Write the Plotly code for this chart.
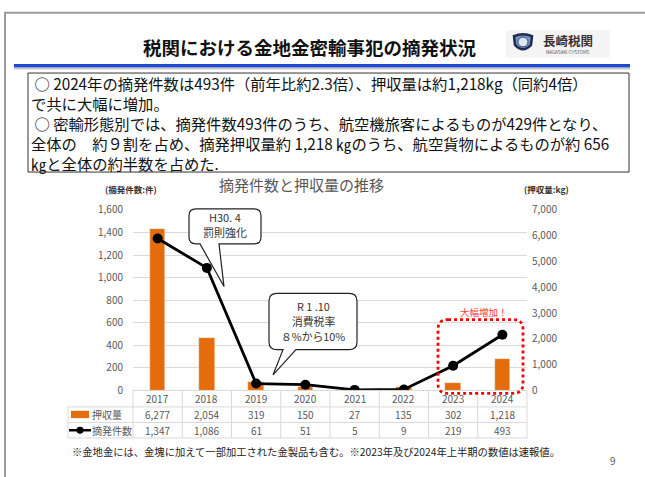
import plotly.graph_objects as go

# ---------------- data ----------------
years = ["2017", "2018", "2019", "2020", "2021", "2022", "2023", "2024"]
seized_kg = [6277, 2054, 319, 150, 27, 135, 302, 1218]
cases = [1347, 1086, 61, 51, 5, 9, 219, 493]
left_ticks = [0, 200, 400, 600, 800, 1000, 1200, 1400, 1600]
right_ticks = [0, 1000, 2000, 3000, 4000, 5000, 6000, 7000]
series_names = ["押収量", "摘発件数"]

W, H = 645, 477
JP = "Noto Sans CJK JP"
GRAY = "#595959"
ORANGE = "#E46C0A"
GRID = "#D9D9D9"


def px(x):
    return x / W


def py(y):
    return 1 - y / H


X0, X1 = 133, 527
Y_TOP, Y_BOT = 208, 394

fig = go.Figure()
fig.add_trace(go.Bar(x=years, y=seized_kg, name=series_names[0], marker_color=ORANGE,
                     width=0.31, yaxis="y", showlegend=False))
fig.add_trace(go.Scatter(x=years, y=cases, name=series_names[1], mode="lines+markers",
                         line=dict(color="black", width=2.8),
                         marker=dict(color="black", size=10), yaxis="y2", showlegend=False))

shapes = []
ann = []


def line(x0, y0, x1, y1, color=GRID, width=1):
    shapes.append(dict(type="line", xref="paper", yref="paper",
                       x0=px(x0), y0=py(y0), x1=px(x1), y1=py(y1),
                       line=dict(color=color, width=width)))


def text(x, y, s, size, color="black", xanchor="center", bold=False, align="center"):
    if bold:
        s = "<b>" + s + "</b>"
    ann.append(dict(x=px(x), y=py(y), xref="paper", yref="paper", text=s,
                    showarrow=False, xanchor=xanchor, yanchor="middle", align=align,
                    font=dict(family=JP, size=size, color=color)))


# slide frame
shapes.append(dict(type="rect", xref="paper", yref="paper", x0=px(5), y0=py(5),
                   x1=px(660), y1=py(490), line=dict(color="#9A9A9A", width=2)))
text(310, 40, "税関における金地金密輸事犯の摘発状況", 18.5, "#111111", bold=True)

# logo
shapes.append(dict(type="rect", xref="paper", yref="paper", x0=px(506), y0=py(23),
                   x1=px(610), y1=py(51), fillcolor="#F4F4F4", line=dict(width=0)))
shapes.append(dict(type="path", xref="paper", yref="paper",
                   path=f"M {px(514)},{py(29)} Q {px(523)},{py(25)} {px(532)},{py(29)} "
                        f"L {px(531)},{py(38)} Q {px(523)},{py(47)} {px(515)},{py(38)} Z",
                   fillcolor="#7C93B8", line=dict(color="#1E2B55", width=2.5)))
shapes.append(dict(type="circle", xref="paper", yref="paper", x0=px(518), y0=py(30),
                   x1=px(528), y1=py(40), fillcolor="#DDE6F2", line=dict(color="#3A4E7A", width=1)))
text(568, 33, "長崎税関", 12.5, "#3B2F2F", bold=True)
text(568, 45, "NAGASAKI CUSTOMS", 4.5, "#555555")

# blue rule
line(14, 59.5, 630, 59.5, "#1F49CF", 3.5)
line(14, 62.5, 630, 62.5, "#C8C8C8", 1.5)

# summary box
shapes.append(dict(type="rect", xref="paper", yref="paper", x0=px(28), y0=py(67),
                   x1=px(629), y1=py(169), line=dict(color="#333333", width=1)))
box_lines = [
    " ○ 2024年の摘発件数は493件（前年比約2.3倍）、押収量は約1,218kg（同約4倍）",
    "で共に大幅に増加。",
    " ○ 密輸形態別では、摘発件数493件のうち、航空機旅客によるものが429件となり、",
    "全体の　約９割を占め、摘発押収量約 1,218 ㎏のうち、航空貨物によるものが約 656",
    "㎏と全体の約半数を占めた.",
]
text(29, 118, "<br>".join(box_lines), 15.3, "#111111", xanchor="left", align="left")

# chart titles
text(301, 182, "摘発件数と押収量の推移", 15, GRAY)
text(131, 186, "(摘発件数:件)", 8.5, "#333333", bold=True)
text(546, 186, "(押収量:kg)", 8.5, "#333333", bold=True)

# data table below the plot
line(X0, Y_BOT, X1, Y_BOT)
for yy in (411, 427, 443):
    line(68, yy, X1, yy)
line(68, 411, 68, 443)
n = len(years)
step = (X1 - X0) / n
for i in range(n + 1):
    line(X0 + i * step, Y_BOT, X0 + i * step, 443)

for i, yr in enumerate(years):
    for yy, s in ((402.5, yr), (419, f"{seized_kg[i]:,}"), (435, f"{cases[i]:,}")):
        ann.append(dict(x=i, y=py(yy), xref="x", yref="paper", text=s, showarrow=False,
                        yanchor="middle", font=dict(family=JP, size=10, color=GRAY)))

shapes.append(dict(type="rect", xref="paper", yref="paper", x0=px(71), y0=py(415),
                   x1=px(89), y1=py(422.5), fillcolor=ORANGE, line=dict(width=0)))
line(69, 435, 91, 435, "black", 2.5)
shapes.append(dict(type="circle", xref="paper", yref="paper", x0=px(76.5), y0=py(431.5),
                   x1=px(83.5), y1=py(438.5), fillcolor="black", line=dict(width=0)))
text(90, 419, series_names[0], 10, GRAY, xanchor="left")
text(90, 435, series_names[1], 10, GRAY, xanchor="left")


def bubble(x0, y0, x1, y1, r, b0, b1, tx, ty):
    pts = [
        ("M", (x0 + r, y0)), ("L", (x1 - r, y0)), ("Q", (x1, y0), (x1, y0 + r)),
        ("L", (x1, y1 - r)), ("Q", (x1, y1), (x1 - r, y1)), ("L", (b1, y1)),
        ("L", (tx, ty)), ("L", (b0, y1)), ("L", (x0 + r, y1)),
        ("Q", (x0, y1), (x0, y1 - r)), ("L", (x0, y0 + r)), ("Q", (x0, y0), (x0 + r, y0)),
    ]
    parts = []
    for p in pts:
        parts.append(p[0] + " " + " ".join(f"{px(a):.5f},{py(b):.5f}" for a, b in p[1:]))
    shapes.append(dict(type="path", xref="paper", yref="paper", path=" ".join(parts) + " Z",
                       fillcolor="white", line=dict(color="#222222", width=1.2)))


bubble(189, 207, 261, 243, 7, 200, 219, 224, 287)
text(225, 215.5, "H30. 4", 11, "#333333")
text(225, 231, "罰則強化", 11, "#333333")
bubble(269, 294, 357, 352, 8, 283, 296, 273, 378)
text(313, 306.5, "R 1 .10", 10.8, "#333333")
text(313, 322, "消費税率", 10.8, "#333333")
text(313, 338, "８%から10%", 10.8, "#333333")

# red dotted highlight
r = 10
x0, y0, x1, y1 = 438, 321, 523, 397
shapes.append(dict(type="path", xref="paper", yref="paper",
                   path=(f"M {px(x0 + r)},{py(y0)} L {px(x1 - r)},{py(y0)} Q {px(x1)},{py(y0)} {px(x1)},{py(y0 + r)} "
                         f"L {px(x1)},{py(y1 - r)} Q {px(x1)},{py(y1)} {px(x1 - r)},{py(y1)} "
                         f"L {px(x0 + r)},{py(y1)} Q {px(x0)},{py(y1)} {px(x0)},{py(y1 - r)} "
                         f"L {px(x0)},{py(y0 + r)} Q {px(x0)},{py(y0)} {px(x0 + r)},{py(y0)} Z"),
                   line=dict(color="#FF0000", width=2.8, dash="dot")))
text(484, 313, "大幅増加！", 9.5, "#FF3B3B")

# footnote & page number
text(316, 457, "※金地金には、金塊に加えて一部加工された金製品も含む。※2023年及び2024年上半期の数値は速報値。",
     10.3, "#222222")
text(613, 466, "9", 10, GRAY)

fig.update_layout(
    width=W, height=H, margin=dict(l=0, r=0, t=0, b=0),
    paper_bgcolor="white", plot_bgcolor="rgba(0,0,0,0)",
    bargap=0, showlegend=False,
    xaxis=dict(domain=[px(X0), px(X1)], type="category", range=[-0.5, 7.5],
               showticklabels=False, showgrid=False, zeroline=False, showline=False),
    yaxis=dict(domain=[py(Y_BOT), py(Y_TOP)], range=[0, 7000], side="right",
               tickvals=right_ticks, ticktext=[f"{v:,}" for v in right_ticks],
               showgrid=False, zeroline=False, showline=False, ticks="",
               tickfont=dict(family=JP, size=10, color=GRAY), ticklabelstandoff=4),
    yaxis2=dict(domain=[py(Y_BOT), py(Y_TOP)], range=[0, 1600], overlaying="y", side="left",
                anchor="x", tickvals=left_ticks, ticktext=[f"{v:,}" for v in left_ticks],
                showgrid=True, gridcolor=GRID, gridwidth=1.2, zeroline=False, showline=False,
                ticks="", tickfont=dict(family=JP, size=10, color=GRAY), ticklabelstandoff=9),
    shapes=shapes, annotations=ann,
)

fig.write_html("out.html")
